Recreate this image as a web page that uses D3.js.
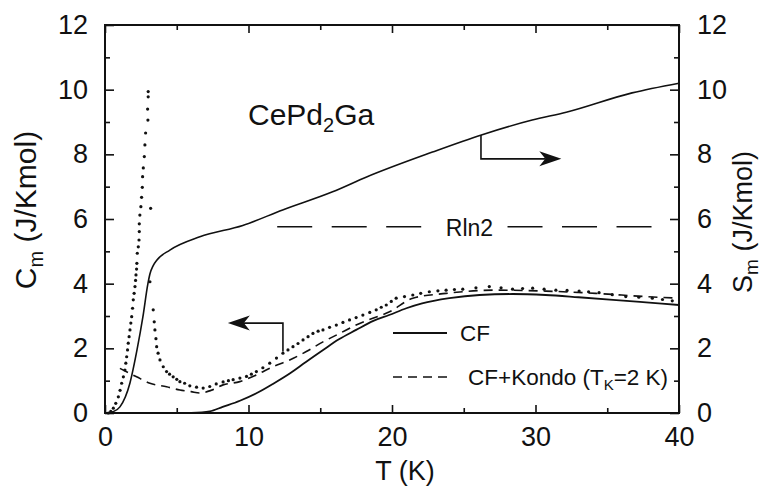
<!DOCTYPE html>
<html>
<head>
<meta charset="utf-8">
<script src="https://cdnjs.cloudflare.com/ajax/libs/d3/7.8.5/d3.min.js"></script>
<style>
  body { margin: 0; background: #fff; }
  svg text { font-family: "Liberation Sans", Arial, Helvetica, sans-serif; fill: #111; }
</style>
</head>
<body>
<script>
var width = 763,
    height = 486;

// measured magnetic specific heat (dots): T (K) and Cm (J/K mol)
var tMeas = [0.23, 0.4, 0.58, 0.75, 0.93, 1.05, 1.16, 1.28, 1.39, 1.45, 1.51, 1.57, 1.62, 1.68, 1.74,
             1.8, 1.86, 1.92, 1.97, 2.03, 2.09, 2.13, 2.16, 2.2, 2.22, 2.25, 2.32, 2.37, 2.39, 2.39,
             2.43, 2.5, 2.55, 2.6, 2.62, 2.67, 2.74, 2.78, 2.83, 2.99, 2.97, 3.01, 3.01, 3.18,
             3.13, 3.36, 3.43, 3.48, 3.55, 3.6, 3.7, 3.83, 4.06, 4.29, 4.5, 4.75, 5.0, 5.22, 5.55,
             5.91, 6.38, 6.84, 7.3, 7.75, 8.23, 8.6, 8.93, 9.4, 9.86, 10.2, 10.55, 11.0, 11.48,
             11.95, 12.4, 12.75, 13.1, 13.45, 13.8, 14.15, 14.49, 14.85, 15.19, 15.65, 16.12,
             16.58, 17.04, 17.5, 17.97, 18.45, 18.9, 19.25, 19.6, 19.95, 20.29, 20.87, 21.45,
             22.0, 22.6, 23.2, 23.77, 24.35, 24.93, 25.85, 26.78, 27.6, 28.4, 29.1, 29.8, 30.6,
             31.42, 32.2, 33.04, 33.7, 34.43, 35.35, 36.29, 37.2, 38.14, 38.85, 39.53];
var cMeas = [0, 0.05, 0.15, 0.3, 0.5, 0.7, 0.92, 1.12, 1.33, 1.54, 1.74, 1.95, 2.16, 2.36, 2.57,
             2.78, 2.98, 3.24, 3.5, 3.7, 3.91, 4.1, 4.27, 4.45, 4.63, 4.94, 5.14, 5.35, 5.61, 5.85,
             6.12, 6.38, 6.67, 6.98, 7.31, 7.58, 7.93, 8.29, 8.66, 9.06, 9.4, 9.78, 9.94, 6.33,
             4.06, 3.19, 2.82, 2.57, 2.3, 2.05, 1.85, 1.64, 1.43, 1.28, 1.2, 1.12, 1.04, 0.97, 0.92,
             0.84, 0.8, 0.77, 0.82, 0.9, 0.96, 1.0, 1.03, 1.08, 1.13, 1.2, 1.28, 1.4, 1.54,
             1.7, 1.85, 1.95, 2.05, 2.15, 2.26, 2.36, 2.46, 2.53, 2.57, 2.65, 2.72,
             2.8, 2.88, 2.95, 3.03, 3.11, 3.19, 3.27, 3.34, 3.45, 3.55, 3.6, 3.65,
             3.7, 3.75, 3.78, 3.8, 3.82, 3.83, 3.87, 3.91, 3.87, 3.83, 3.85, 3.86, 3.83,
             3.8, 3.79, 3.77, 3.75, 3.72, 3.66, 3.6, 3.58, 3.55, 3.51, 3.47];

// crystal field calculation (solid)
var tCF = [6.0, 7.3, 8.2, 9.4, 10.55, 11.7, 12.9, 14.0, 15.2, 16.3, 17.5, 18.7, 19.8, 21.0,
           22.1, 24.0, 26.1, 28.4, 30.7, 33.0, 35.4, 37.7, 40.0];
var cCF = [0, 0.05, 0.19, 0.38, 0.61, 0.9, 1.23, 1.58, 1.95, 2.28, 2.57, 2.85, 3.03, 3.24,
           3.39, 3.55, 3.65, 3.68, 3.65, 3.58, 3.5, 3.42, 3.34];

// CF + Kondo, T_K = 2 K (dashed)
var tKondo = [1.04, 2.2, 3.13, 4.29, 5.22, 6.0, 6.61, 7.4, 8.23, 9.39, 10.55, 11.71, 12.87,
              14.03, 15.19, 16.35, 17.5, 18.66, 19.83, 21.45, 23.77, 27.25, 30.72, 34.2,
              37.68, 40.0];
var cKondo = [1.38, 1.12, 0.92, 0.81, 0.71, 0.66, 0.62, 0.7, 0.87, 0.97, 1.18, 1.43, 1.64,
              1.9, 2.2, 2.46, 2.72, 2.93, 3.13, 3.55, 3.7, 3.8, 3.77, 3.7, 3.6, 3.55];

// magnetic entropy (solid, right axis)
var tS = [0.1, 0.6, 1.04, 1.74, 2.23, 2.64, 2.99, 3.13, 3.35, 3.62, 4.52, 6.61, 9.6, 12.38,
          15.86, 18.23, 22.82, 26.23, 29.77, 32.14, 36.73, 40.0];
var sVals = [0, 0.05, 0.19, 0.93, 1.95, 2.97, 4.0, 4.3, 4.55, 4.73, 5.04, 5.45, 5.8, 6.28,
             6.84, 7.3, 8.07, 8.6, 9.06, 9.3, 9.9, 10.2];

var rln2 = 5.76;

var xTicks = [0, 10, 20, 30, 40],
    xMinor = [5, 15, 25, 35],
    yTicks = [0, 2, 4, 6, 8, 10, 12],
    yMinor = [1, 3, 5, 7, 9, 11];

var svg = d3.select("body").append("svg")
    .attr("width", width)
    .attr("height", height);

var x = d3.scaleLinear().domain([0, 40]).range([105, 679]);
var y = d3.scaleLinear().domain([0, 12]).range([413, 25]);   // Cm and Sm share the same scale

var font = '"Liberation Sans", Arial, Helvetica, sans-serif';

function styleAxis(g) {
    g.select(".domain").remove();
    g.selectAll("line").attr("stroke", "#111").attr("stroke-width", 1.6);
    g.selectAll("text").attr("font-size", 27).attr("font-family", font).attr("fill", "#111");
}

// bottom / top
svg.append("g").attr("transform", "translate(0," + y(0) + ")")
    .call(d3.axisBottom(x).tickValues(xTicks).tickSize(-8).tickPadding(14)).call(styleAxis);
svg.append("g").attr("transform", "translate(0," + y(0) + ")")
    .call(d3.axisBottom(x).tickValues(xMinor).tickSize(-5).tickFormat("")).call(styleAxis);
svg.append("g").attr("transform", "translate(0," + y(12) + ")")
    .call(d3.axisTop(x).tickValues(xTicks).tickSize(-8).tickFormat("")).call(styleAxis);
svg.append("g").attr("transform", "translate(0," + y(12) + ")")
    .call(d3.axisTop(x).tickValues(xMinor).tickSize(-5).tickFormat("")).call(styleAxis);
// left / right
svg.append("g").attr("transform", "translate(" + x(0) + ",0)")
    .call(d3.axisLeft(y).tickValues(yTicks).tickSize(-9).tickPadding(17)).call(styleAxis);
svg.append("g").attr("transform", "translate(" + x(0) + ",0)")
    .call(d3.axisLeft(y).tickValues(yMinor).tickSize(-5).tickFormat("")).call(styleAxis);
svg.append("g").attr("transform", "translate(" + x(40) + ",0)")
    .call(d3.axisRight(y).tickValues(yTicks).tickSize(-9).tickPadding(18)).call(styleAxis);
svg.append("g").attr("transform", "translate(" + x(40) + ",0)")
    .call(d3.axisRight(y).tickValues(yMinor).tickSize(-5).tickFormat("")).call(styleAxis);

// frame
svg.append("rect")
    .attr("x", x(0)).attr("y", y(12))
    .attr("width", x(40) - x(0)).attr("height", y(0) - y(12))
    .attr("fill", "none").attr("stroke", "#111").attr("stroke-width", 2);

var line = d3.line()
    .x(function(d) { return x(d[0]); })
    .y(function(d) { return y(d[1]); })
    .curve(d3.curveMonotoneX);

// curves
svg.append("path").datum(d3.zip(tS, sVals))
    .attr("d", line).attr("fill", "none").attr("stroke", "#111").attr("stroke-width", 1.6);
svg.append("path").datum(d3.zip(tCF, cCF))
    .attr("d", line).attr("fill", "none").attr("stroke", "#111").attr("stroke-width", 1.8);
svg.append("path").datum(d3.zip(tKondo, cKondo))
    .attr("d", line).attr("fill", "none").attr("stroke", "#111").attr("stroke-width", 1.6)
    .attr("stroke-dasharray", "9,6");

svg.selectAll(".dot").data(d3.zip(tMeas, cMeas))
  .enter().append("circle")
    .attr("class", "dot")
    .attr("cx", function(d) { return x(d[0]); })
    .attr("cy", function(d) { return y(d[1]); })
    .attr("r", 1.6)
    .attr("fill", "#111");

// R ln2 level
[[12.0, 22.05], [28.05, 38.25]].forEach(function(s) {
    svg.append("line")
        .attr("x1", x(s[0])).attr("x2", x(s[1]))
        .attr("y1", y(rln2)).attr("y2", y(rln2))
        .attr("stroke", "#111").attr("stroke-width", 1.6)
        .attr("stroke-dasharray", "35,19.5");
});
svg.append("text")
    .attr("x", x(25.4)).attr("y", y(rln2) + 9)
    .attr("text-anchor", "middle").attr("font-size", 23)
    .text("Rln2");

// arrows pointing to the axes
function arrowHead(tx, ty, dir) {
    var p = [[0, 0], [-22 * dir, -7.5], [-16 * dir, 0], [-22 * dir, 7.5]];
    svg.append("path")
        .attr("d", "M" + p.map(function(q) { return (tx + q[0]) + "," + (ty + q[1]); }).join("L") + "Z")
        .attr("fill", "#111");
}
svg.append("path")
    .attr("d", "M" + x(12.4) + "," + y(1.9) + "V" + y(2.78) + "H" + (x(8.56) + 16))
    .attr("fill", "none").attr("stroke", "#111").attr("stroke-width", 1.6);
arrowHead(x(8.56), y(2.78), -1);
svg.append("path")
    .attr("d", "M" + x(26.2) + "," + y(8.6) + "V" + y(7.86) + "H" + (x(31.8) - 16))
    .attr("fill", "none").attr("stroke", "#111").attr("stroke-width", 1.6);
arrowHead(x(31.8), y(7.86), 1);

// compound name
var title = svg.append("text").attr("x", 248).attr("y", 125).attr("font-size", 30);
title.append("tspan").text("CePd");
title.append("tspan").attr("font-size", 20).attr("dy", 7).text("2");
title.append("tspan").attr("dy", -7).text("Ga");

// legend
svg.append("line").attr("x1", 393).attr("x2", 447).attr("y1", 333).attr("y2", 333)
    .attr("stroke", "#111").attr("stroke-width", 1.8);
svg.append("text").attr("x", 460).attr("y", 341).attr("font-size", 22.5).text("CF");
svg.append("line").attr("x1", 393).attr("x2", 447).attr("y1", 377).attr("y2", 377)
    .attr("stroke", "#111").attr("stroke-width", 1.6).attr("stroke-dasharray", "9,6");
var kl = svg.append("text").attr("x", 468).attr("y", 385).attr("font-size", 22.5);
kl.append("tspan").text("CF+Kondo (T");
kl.append("tspan").attr("font-size", 15).attr("dy", 5).text("K");
kl.append("tspan").attr("dy", -5).text("=2 K)");

// axis titles
svg.append("text").attr("x", 405).attr("y", 480)
    .attr("text-anchor", "middle").attr("font-size", 27).text("T (K)");

var yl = svg.append("text")
    .attr("transform", "translate(36,210) rotate(-90)")
    .attr("text-anchor", "middle").attr("font-size", 30);
yl.append("tspan").text("C");
yl.append("tspan").attr("font-size", 20).attr("dy", 7).text("m");
yl.append("tspan").attr("dy", -7).text(" (J/Kmol)");

var yr = svg.append("text")
    .attr("transform", "translate(752,222) rotate(-90)")
    .attr("text-anchor", "middle").attr("font-size", 27);
yr.append("tspan").text("S");
yr.append("tspan").attr("font-size", 19).attr("dy", 6).text("m");
yr.append("tspan").attr("dy", -6).text(" (J/Kmol)");
</script>
</body>
</html>
